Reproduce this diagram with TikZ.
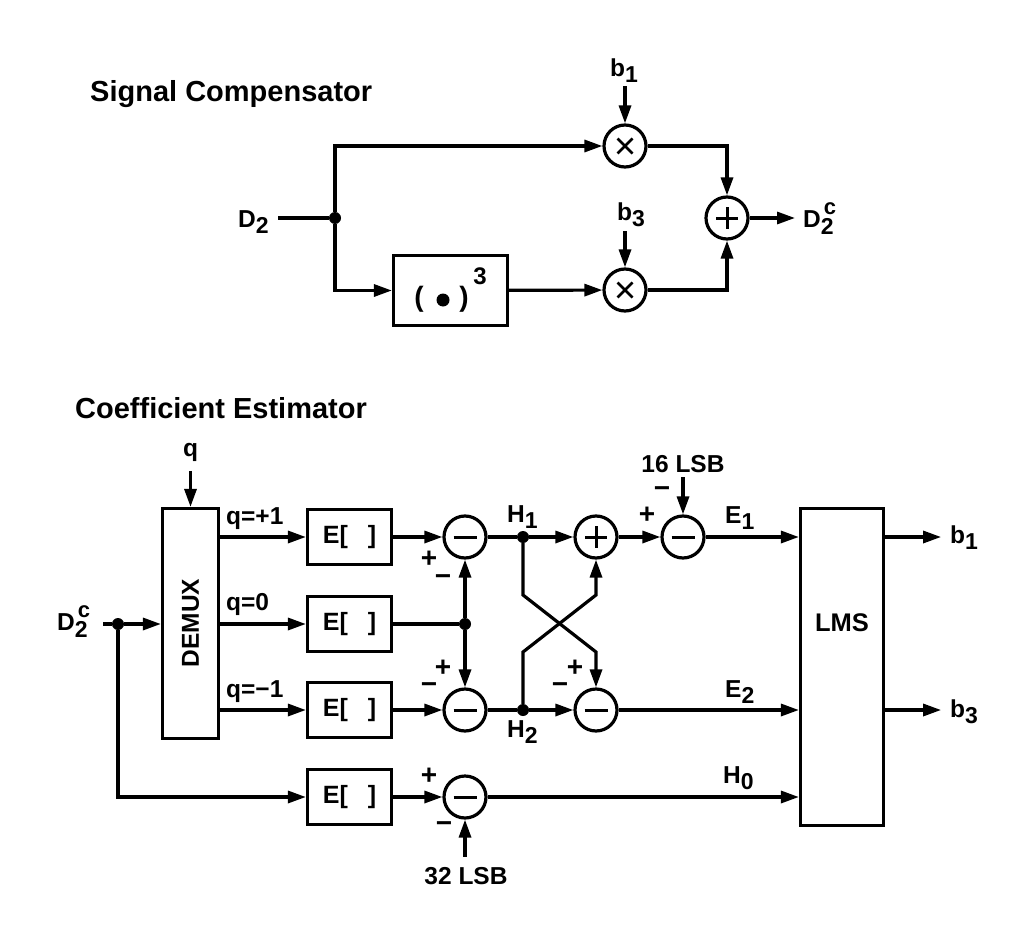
\documentclass[tikz,border=0pt]{standalone}
\usepackage{fontspec}
\setmainfont{Liberation Sans}
\usetikzlibrary{arrows.meta,calc}
\newcommand{\sbx}[1]{\raisebox{-6pt}{\fontsize{23}{23}\selectfont #1}}
\newcommand{\dtwoc}{D\rlap{\raisebox{-7pt}{\fontsize{23}{23}\selectfont 2}}\raisebox{13pt}{\hspace{3pt}\fontsize{22}{22}\selectfont c}}
\begin{document}
\begin{tikzpicture}[x=1pt,y=-1pt,
  wire/.style={line width=3.2pt},
  arr/.style={wire,-{Triangle[length=18pt,width=12pt]}},
  blk/.style={draw,line width=3.2pt,rectangle,inner sep=0pt},
  sumc/.style={circle,draw,line width=3.2pt,minimum size=42pt,inner sep=0pt},
  minus/.style={sumc,path picture={\draw[line width=3pt] ($(path picture bounding box.center)+(-11.5,0)$) -- ($(path picture bounding box.center)+(11.5,0)$);}},
  plus/.style={sumc,path picture={\draw[line width=3pt] ($(path picture bounding box.center)+(-11,0)$) -- ($(path picture bounding box.center)+(11,0)$) ($(path picture bounding box.center)+(0,-11)$) -- ($(path picture bounding box.center)+(0,11)$);}},
  times/.style={sumc,path picture={\draw[line width=2.6pt] ($(path picture bounding box.center)+(-7.5,-7.5)$) -- ($(path picture bounding box.center)+(7.5,7.5)$) ($(path picture bounding box.center)+(-7.5,7.5)$) -- ($(path picture bounding box.center)+(7.5,-7.5)$);}},
  dot/.style={circle,fill,inner sep=0pt,minimum size=12pt},
  lbl/.style={inner sep=0pt,font=\fontsize{24.5}{28}\selectfont\bfseries},
  ttl/.style={inner sep=0pt,font=\fontsize{29}{34}\selectfont\bfseries},
  sgn/.style={inner sep=0pt,font=\fontsize{28}{30}\selectfont\bfseries},
  ebox/.style={blk,minimum width=84pt,minimum height=55pt,font=\fontsize{25}{28}\selectfont\bfseries}
]
\useasboundingbox (0,0) rectangle (1030,928);

% ---------------- Signal Compensator ----------------
\node[ttl,anchor=base west] (t1) at (90,102) {Signal Compensator};
\node[lbl,anchor=base west] (d2) at (238,227) {D\sbx{2}};
\node[dot] (j1) at (335,218) {};
\node[blk,minimum width=114pt,minimum height=70pt] (cube) at (450.5,290.5) {};
\node[inner sep=0pt,font=\fontsize{28}{30}\selectfont\bfseries] (pl) at (419,299) {(};
\node[inner sep=0pt,font=\fontsize{28}{30}\selectfont\bfseries] (pr) at (464,299) {)};
\node[circle,fill,inner sep=0pt,minimum size=13pt] (pd) at (443,300) {};
\node[inner sep=0pt,font=\fontsize{24}{26}\selectfont\bfseries] (p3) at (480,276) {3};
\node[times] (m1) at (625,146) {};
\node[times] (m3) at (625,290) {};
\node[plus] (add) at (727,218) {};
\node[lbl,anchor=base west] (b1t) at (610,77) {b\sbx{1}};
\node[lbl,anchor=base west] (b3t) at (617,220) {b\sbx{3}};
\node[lbl,anchor=base west] (d2ct) at (803,227) {\dtwoc};

\draw[wire] (j1) -- ++(-57,0);
\draw[arr] (j1) |- (m1);
\draw[arr] (j1) |- (cube);
\draw[arr] (cube) -- (m3);
\draw[arr] (m1) -| (add);
\draw[arr] (m3) -| (add);
\draw[arr] (add) -- ++(68,0);
\draw[arr] ([yshift=37pt]m1.north) -- (m1.north);
\draw[arr] ([yshift=36pt]m3.north) -- (m3.north);

% ---------------- Coefficient Estimator ----------------
\node[ttl,anchor=base west] (t2) at (75,418) {Coefficient Estimator};
\node[blk,minimum width=56pt,minimum height=230pt] (demux) at (190.5,623.5) {};
\node[lbl,rotate=90] (demuxt) at (190.5,623) {DEMUX};
\node[lbl,anchor=base west] (ql) at (183,456) {q};
\node[lbl,anchor=base west] (d2cb) at (57,630) {\dtwoc};
\node[dot] (j2) at (118,624) {};
\node[lbl,anchor=base west] (q1) at (226,524) {q=+1};
\node[lbl,anchor=base west] (q0) at (226,610) {q=0};
\node[lbl,anchor=base west] (qm) at (226,697) {q=−1};

\node[ebox] (e1) at (349.5,537) {E[\hspace{20pt}]};
\node[ebox] (e2) at (349.5,624) {E[\hspace{20pt}]};
\node[ebox] (e3) at (349.5,710) {E[\hspace{20pt}]};
\node[ebox] (e4) at (349.5,797) {E[\hspace{20pt}]};

\node[minus] (s1) at (465,537) {};
\node[dot] (j3) at (465,624) {};
\node[minus] (s2) at (465,710) {};
\node[minus] (s5) at (465,797) {};
\node[dot] (h1d) at (523,537) {};
\node[dot] (h2d) at (523,710) {};
\node[plus] (a1) at (596,537) {};
\node[minus] (s4) at (596,710) {};
\node[minus] (s3) at (683,537) {};
\node[blk,minimum width=83pt,minimum height=317pt] (lms) at (842,667) {};
\node[lbl,font=\fontsize{25.5}{28}\selectfont\bfseries] (lmst) at (842,623) {LMS};

\coordinate (c1) at (523,595);
\coordinate (c2) at (596,652);
\coordinate (c3) at (523,652);
\coordinate (c4) at (596,595);

% labels
\node[lbl,anchor=base west] (h1l) at (507,522) {H\sbx{1}};
\node[lbl,anchor=base west] (h2l) at (507,737) {H\sbx{2}};
\node[lbl,anchor=base west] (e1l) at (725,523) {E\sbx{1}};
\node[lbl,anchor=base west] (e2l) at (725,697) {E\sbx{2}};
\node[lbl,anchor=base west] (h0l) at (723,783) {H\sbx{0}};
\node[lbl,anchor=base] (l16) at (683,472) {16 LSB};
\node[lbl,anchor=base] (l32) at (466,884) {32 LSB};
\node[lbl,anchor=base west] (ob1) at (950,543) {b\sbx{1}};
\node[lbl,anchor=base west] (ob3) at (950,717) {b\sbx{3}};

\node[sgn] (s1p) at (429,559) {+};
\node[sgn] (s1m) at (443,580) {−};
\node[sgn] (s2p) at (443,668) {+};
\node[sgn] (s2m) at (429,688) {−};
\node[sgn] (s3p) at (647,515) {+};
\node[sgn] (s3m) at (662,492) {−};
\node[sgn] (s4p) at (575,668) {+};
\node[sgn] (s4m) at (560,688) {−};
\node[sgn] (s5p) at (429,776) {+};
\node[sgn] (s5m) at (444,827) {−};

% wires
\draw[arr] ([yshift=36pt]demux.north) -- (demux.north);
\draw[wire] (j2) -- ++(-15,0);
\draw[arr] (j2) -- (demux.west |- j2);
\draw[arr] (j2) |- (e4);
\draw[arr] (demux.east |- e1) -- (e1);
\draw[arr] (demux.east |- e2) -- (e2);
\draw[arr] (demux.east |- e3) -- (e3);
\draw[arr] (e1) -- (s1);
\draw[wire] (e2) -- (j3);
\draw[arr] (j3) -- (s1);
\draw[arr] (j3) -- (s2);
\draw[arr] (e3) -- (s2);
\draw[arr] (e4) -- (s5);
\draw[wire] (s1) -- (h1d);
\draw[wire] (s2) -- (h2d);
\draw[arr] (h1d) -- (a1);
\draw[arr] (h2d) -- (s4);
\draw[arr] (a1) -- (s3);
\draw[arr] (h1d) -- (c1) -- (c2) -- (s4);
\draw[arr] (h2d) -- (c3) -- (c4) -- (a1);
\draw[arr] ([yshift=37pt]s3.north) -- (s3.north);
\draw[arr] ([yshift=-37pt]s5.south) -- (s5.south);
\draw[arr] (s3) -- (s3 -| lms.west);
\draw[arr] (s4) -- (s4 -| lms.west);
\draw[arr] (s5) -- (s5 -| lms.west);
\draw[arr] (lms.east |- s3) -- ++(56,0);
\draw[arr] (lms.east |- s4) -- ++(56,0);
\end{tikzpicture}
\end{document}
